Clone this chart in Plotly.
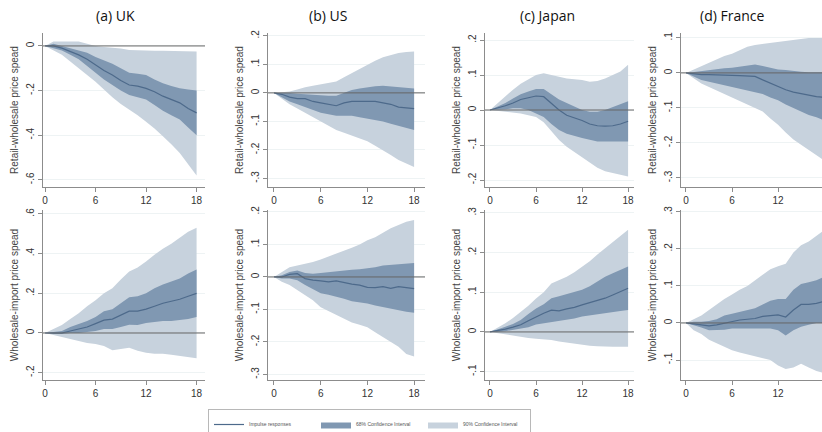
import plotly.graph_objects as go

horizon = list(range(19))
x_ticks = [0, 6, 12, 18]

# ---------------- Retail-wholesale price spread (top row) ----------------
uk_rw_irf  = [0, 0.0, -0.01, -0.025, -0.04, -0.06, -0.085, -0.11, -0.13, -0.155, -0.175, -0.18, -0.19, -0.205, -0.225, -0.24, -0.255, -0.28, -0.30]
uk_rw_hi68 = [0, 0.01, 0.0, -0.01, -0.02, -0.03, -0.05, -0.065, -0.08, -0.1, -0.12, -0.125, -0.13, -0.15, -0.167, -0.18, -0.19, -0.195, -0.2]
uk_rw_lo68 = [0, -0.01, -0.02, -0.04, -0.06, -0.09, -0.12, -0.15, -0.175, -0.2, -0.22, -0.23, -0.24, -0.265, -0.29, -0.31, -0.33, -0.365, -0.40]
uk_rw_hi90 = [0, 0.02, 0.02, 0.02, 0.02, 0.01, 0.0, -0.005, -0.008, -0.012, -0.018, -0.02, -0.02, -0.022, -0.022, -0.023, -0.024, -0.025, -0.025]
uk_rw_lo90 = [0, -0.02, -0.04, -0.07, -0.1, -0.13, -0.16, -0.195, -0.23, -0.26, -0.285, -0.31, -0.34, -0.37, -0.405, -0.44, -0.48, -0.53, -0.58]

us_rw_irf  = [0, -0.005, -0.015, -0.02, -0.02, -0.03, -0.035, -0.04, -0.045, -0.035, -0.03, -0.03, -0.03, -0.03, -0.035, -0.04, -0.05, -0.053, -0.055]
us_rw_hi68 = [0, 0.0, 0.0, -0.003, -0.005, -0.008, -0.01, -0.01, -0.01, 0.0, 0.01, 0.015, 0.02, 0.023, 0.025, 0.022, 0.02, 0.017, 0.015]
us_rw_lo68 = [0, -0.015, -0.03, -0.04, -0.05, -0.06, -0.07, -0.075, -0.08, -0.08, -0.08, -0.085, -0.09, -0.095, -0.1, -0.108, -0.115, -0.123, -0.13]
us_rw_hi90 = [0, 0.002, 0.005, 0.012, 0.02, 0.025, 0.03, 0.035, 0.04, 0.055, 0.07, 0.085, 0.1, 0.113, 0.125, 0.133, 0.14, 0.143, 0.145]
us_rw_lo90 = [0, -0.02, -0.04, -0.055, -0.07, -0.085, -0.1, -0.115, -0.13, -0.14, -0.15, -0.16, -0.17, -0.185, -0.2, -0.218, -0.235, -0.248, -0.26]

jp_rw_irf  = [0, 0.005, 0.012, 0.02, 0.03, 0.035, 0.04, 0.038, 0.02, 0.0, -0.015, -0.022, -0.03, -0.04, -0.045, -0.046, -0.045, -0.04, -0.032]
jp_rw_hi68 = [0, 0.01, 0.02, 0.033, 0.045, 0.053, 0.06, 0.06, 0.045, 0.03, 0.02, 0.01, 0.0, -0.005, -0.005, 0.0, 0.008, 0.018, 0.025]
jp_rw_lo68 = [0, 0.0, 0.002, 0.005, 0.005, 0.0, -0.01, -0.02, -0.04, -0.057, -0.068, -0.075, -0.08, -0.085, -0.09, -0.09, -0.09, -0.09, -0.09]
jp_rw_hi90 = [0, 0.02, 0.04, 0.058, 0.075, 0.088, 0.1, 0.105, 0.1, 0.095, 0.09, 0.088, 0.086, 0.081, 0.083, 0.09, 0.1, 0.11, 0.129]
jp_rw_lo90 = [0, -0.002, -0.005, -0.008, -0.01, -0.015, -0.02, -0.035, -0.06, -0.086, -0.105, -0.12, -0.133, -0.15, -0.165, -0.175, -0.18, -0.187, -0.19]

fr_rw_irf  = [0, -0.003, -0.005, -0.005, -0.005, -0.006, -0.007, -0.008, -0.01, -0.01, -0.02, -0.03, -0.04, -0.048, -0.055, -0.06, -0.065, -0.068, -0.07]
fr_rw_hi68 = [0, 0.003, 0.005, 0.008, 0.01, 0.013, 0.015, 0.018, 0.02, 0.024, 0.02, 0.015, 0.01, 0.008, 0.005, 0.003, 0.002, 0.002, 0.002]
fr_rw_lo68 = [0, -0.01, -0.02, -0.025, -0.03, -0.035, -0.04, -0.045, -0.05, -0.055, -0.06, -0.07, -0.078, -0.09, -0.1, -0.11, -0.12, -0.127, -0.135]
fr_rw_hi90 = [0, 0.01, 0.02, 0.03, 0.04, 0.048, 0.055, 0.065, 0.075, 0.08, 0.083, 0.087, 0.09, 0.093, 0.095, 0.098, 0.1, 0.1, 0.1]
fr_rw_lo90 = [0, -0.015, -0.03, -0.04, -0.05, -0.06, -0.068, -0.08, -0.09, -0.1, -0.11, -0.13, -0.148, -0.17, -0.19, -0.205, -0.22, -0.234, -0.25]

# ---------------- Wholesale-import price spread (bottom row) ----------------
uk_wi_irf  = [0, 0.0, 0.0, 0.01, 0.02, 0.03, 0.047, 0.065, 0.07, 0.09, 0.11, 0.11, 0.12, 0.135, 0.15, 0.16, 0.17, 0.185, 0.2]
uk_wi_hi68 = [0, 0.005, 0.01, 0.03, 0.045, 0.06, 0.08, 0.11, 0.12, 0.15, 0.18, 0.185, 0.2, 0.225, 0.245, 0.26, 0.275, 0.3, 0.32]
uk_wi_lo68 = [0, -0.005, -0.005, 0.0, 0.0, 0.005, 0.01, 0.02, 0.02, 0.03, 0.042, 0.04, 0.05, 0.055, 0.06, 0.06, 0.065, 0.07, 0.08]
uk_wi_hi90 = [0, 0.02, 0.04, 0.07, 0.1, 0.135, 0.165, 0.2, 0.225, 0.27, 0.31, 0.33, 0.36, 0.395, 0.425, 0.45, 0.48, 0.51, 0.53]
uk_wi_lo90 = [0, -0.01, -0.02, -0.03, -0.04, -0.05, -0.055, -0.065, -0.087, -0.08, -0.075, -0.09, -0.1, -0.105, -0.105, -0.11, -0.115, -0.12, -0.127]

us_wi_irf  = [0, 0.0, 0.008, 0.01, -0.005, -0.01, -0.012, -0.015, -0.012, -0.018, -0.022, -0.025, -0.032, -0.033, -0.03, -0.035, -0.03, -0.033, -0.036]
us_wi_hi68 = [0, 0.005, 0.015, 0.02, 0.012, 0.01, 0.012, 0.015, 0.018, 0.02, 0.022, 0.024, 0.026, 0.03, 0.035, 0.037, 0.04, 0.041, 0.043]
us_wi_lo68 = [0, -0.005, -0.005, -0.01, -0.025, -0.037, -0.05, -0.055, -0.06, -0.067, -0.075, -0.078, -0.082, -0.088, -0.093, -0.098, -0.103, -0.107, -0.11]
us_wi_hi90 = [0, 0.015, 0.03, 0.035, 0.04, 0.046, 0.054, 0.063, 0.07, 0.08, 0.09, 0.1, 0.113, 0.122, 0.135, 0.15, 0.16, 0.17, 0.175]
us_wi_lo90 = [0, -0.015, -0.025, -0.04, -0.055, -0.072, -0.093, -0.105, -0.115, -0.128, -0.14, -0.147, -0.155, -0.17, -0.185, -0.2, -0.215, -0.237, -0.245]

jp_wi_irf  = [0, 0.003, 0.007, 0.012, 0.018, 0.028, 0.038, 0.047, 0.055, 0.053, 0.058, 0.062, 0.068, 0.074, 0.08, 0.085, 0.093, 0.102, 0.11]
jp_wi_hi68 = [0, 0.006, 0.013, 0.02, 0.03, 0.045, 0.059, 0.07, 0.085, 0.09, 0.095, 0.1, 0.106, 0.115, 0.127, 0.139, 0.148, 0.157, 0.165]
jp_wi_lo68 = [0, 0.0, 0.002, 0.005, 0.008, 0.012, 0.019, 0.022, 0.025, 0.028, 0.03, 0.034, 0.039, 0.042, 0.045, 0.047, 0.05, 0.053, 0.055]
jp_wi_hi90 = [0, 0.01, 0.022, 0.035, 0.05, 0.066, 0.084, 0.1, 0.122, 0.13, 0.139, 0.15, 0.164, 0.178, 0.195, 0.21, 0.225, 0.24, 0.257]
jp_wi_lo90 = [0, -0.003, -0.007, -0.01, -0.013, -0.015, -0.017, -0.018, -0.02, -0.024, -0.027, -0.03, -0.033, -0.035, -0.036, -0.037, -0.037, -0.037, -0.037]

fr_wi_irf  = [0, -0.002, -0.005, -0.008, -0.005, 0.0, 0.005, 0.008, 0.01, 0.012, 0.018, 0.02, 0.022, 0.016, 0.035, 0.05, 0.05, 0.053, 0.058]
fr_wi_hi68 = [0, 0.003, 0.003, 0.005, 0.01, 0.02, 0.025, 0.03, 0.035, 0.04, 0.05, 0.06, 0.065, 0.065, 0.09, 0.105, 0.11, 0.115, 0.125]
fr_wi_lo68 = [0, -0.005, -0.012, -0.02, -0.02, -0.018, -0.015, -0.015, -0.017, -0.017, -0.015, -0.015, -0.02, -0.034, -0.02, -0.01, -0.005, 0.0, 0.0]
fr_wi_hi90 = [0, 0.01, 0.02, 0.035, 0.05, 0.065, 0.077, 0.09, 0.1, 0.115, 0.13, 0.145, 0.153, 0.16, 0.19, 0.21, 0.22, 0.235, 0.25]
fr_wi_lo90 = [0, -0.02, -0.03, -0.045, -0.055, -0.065, -0.074, -0.08, -0.085, -0.09, -0.095, -0.1, -0.115, -0.124, -0.12, -0.11, -0.12, -0.13, -0.135]

panel_titles = ["(a) UK", "(b) US", "(c) Japan", "(d) France"]
row_titles = ["Retail-wholesale price spead", "Wholesale-import price spead"]

top_ticks = [
    ([0, -0.2, -0.4, -0.6], ["0", "-.2", "-.4", "-.6"]),
    ([0.2, 0.1, 0, -0.1, -0.2, -0.3], [".2", ".1", "0", "-.1", "-.2", "-.3"]),
    ([0.2, 0.1, 0, -0.1, -0.2], [".2", ".1", "0", "-.1", "-.2"]),
    ([0.1, 0, -0.1, -0.2, -0.3], [".1", "0", "-.1", "-.2", "-.3"]),
]
bottom_ticks = [
    ([0.6, 0.4, 0.2, 0, -0.2], [".6", ".4", ".2", "0", "-.2"]),
    ([0.2, 0.1, 0, -0.1, -0.2, -0.3], [".2", ".1", "0", "-.1", "-.2", "-.3"]),
    ([0.3, 0.2, 0.1, 0, -0.1], [".3", ".2", ".1", "0", "-.1"]),
    ([0.3, 0.2, 0.1, 0, -0.1], [".3", ".2", ".1", "0", "-.1"]),
]

panels = [
    (uk_rw_irf, uk_rw_lo68, uk_rw_hi68, uk_rw_lo90, uk_rw_hi90),
    (us_rw_irf, us_rw_lo68, us_rw_hi68, us_rw_lo90, us_rw_hi90),
    (jp_rw_irf, jp_rw_lo68, jp_rw_hi68, jp_rw_lo90, jp_rw_hi90),
    (fr_rw_irf, fr_rw_lo68, fr_rw_hi68, fr_rw_lo90, fr_rw_hi90),
    (uk_wi_irf, uk_wi_lo68, uk_wi_hi68, uk_wi_lo90, uk_wi_hi90),
    (us_wi_irf, us_wi_lo68, us_wi_hi68, us_wi_lo90, us_wi_hi90),
    (jp_wi_irf, jp_wi_lo68, jp_wi_hi68, jp_wi_lo90, jp_wi_hi90),
    (fr_wi_irf, fr_wi_lo68, fr_wi_hi68, fr_wi_lo90, fr_wi_hi90),
]

# ---------------- layout geometry / style ----------------
W, H = 822, 432
x_domains = [(43, 205), (268, 425), (485, 634), (681, 822)]
x_ranges = [(-0.24, 19.0), (-0.77, 19.4), (-0.65, 18.77), (-0.65, 17.73)]
y_domains = [(33, 187), (210, 380)]
y_ranges_top = [(-0.632, 0.058), (-0.33, 0.21), (-0.22, 0.22), (-0.326, 0.114)]
y_ranges_bot = [(-0.237, 0.62), (-0.317, 0.206), (-0.121, 0.307), (-0.154, 0.305)]
title_x = [115, 328, 547, 732]

LIGHT = "#c7d2dd"
DARK = "#8098b2"
LINE = "#4d6a8b"
AXIS = "#8c8c8c"
GRID = "#eef3f4"
FONT = "Liberation Sans"

fig = go.Figure()
layout = dict(
    width=W, height=H,
    margin=dict(l=0, r=0, t=0, b=0, autoexpand=False),
    paper_bgcolor="white", plot_bgcolor="white",
    showlegend=True,
    legend=dict(
        orientation="h", x=208 / W, y=1 - 409 / H, xanchor="left", yanchor="top",
        font=dict(family=FONT, size=5, color="#555"),
        bordercolor="#b8b8b8", borderwidth=1, bgcolor="white",
        entrywidth=62, entrywidthmode="pixels", itemwidth=30,
        traceorder="normal",
    ),
    annotations=[], shapes=[],
)

for i, (irf, lo68, hi68, lo90, hi90) in enumerate(panels):
    row = i // 4
    col = i % 4
    n = i + 1
    xa = "x" if n == 1 else f"x{n}"
    ya = "y" if n == 1 else f"y{n}"
    first = i == 0
    fig.add_trace(go.Scatter(x=horizon, y=lo90, mode="lines", line=dict(width=0, color=LIGHT),
                             xaxis=xa, yaxis=ya, showlegend=False, hoverinfo="skip"))
    fig.add_trace(go.Scatter(x=horizon, y=hi90, mode="lines", line=dict(width=0, color=LIGHT),
                             fill="tonexty", fillcolor=LIGHT, xaxis=xa, yaxis=ya,
                             name="90% Confidence Interval", legendgroup="c90", legendrank=3,
                             showlegend=first))
    fig.add_trace(go.Scatter(x=horizon, y=lo68, mode="lines", line=dict(width=0, color=DARK),
                             xaxis=xa, yaxis=ya, showlegend=False, hoverinfo="skip"))
    fig.add_trace(go.Scatter(x=horizon, y=hi68, mode="lines", line=dict(width=0, color=DARK),
                             fill="tonexty", fillcolor=DARK, xaxis=xa, yaxis=ya,
                             name="68% Confidence Interval", legendgroup="c68", legendrank=2,
                             showlegend=first))
    fig.add_trace(go.Scatter(x=horizon, y=irf, mode="lines", line=dict(width=1.2, color=LINE),
                             xaxis=xa, yaxis=ya, name="Impulse responses", legendgroup="irf",
                             legendrank=1, showlegend=first))

    xd = x_domains[col]
    yd = y_domains[row]
    yr = (y_ranges_top if row == 0 else y_ranges_bot)[col]
    tv, tt = (top_ticks if row == 0 else bottom_ticks)[col]
    xkey = "xaxis" if n == 1 else f"xaxis{n}"
    ykey = "yaxis" if n == 1 else f"yaxis{n}"
    layout[xkey] = dict(
        domain=[xd[0] / W, xd[1] / W], anchor=ya, range=list(x_ranges[col]),
        tickvals=x_ticks, ticktext=[str(t) for t in x_ticks],
        showgrid=False, zeroline=False, showline=True, linecolor=AXIS, linewidth=1,
        ticks="outside", ticklen=4, tickcolor=AXIS,
        tickfont=dict(family=FONT, size=10, color="#333"),
    )
    layout[ykey] = dict(
        domain=[1 - yd[1] / H, 1 - yd[0] / H], anchor=xa, range=list(yr),
        tickvals=tv, ticktext=tt, tickangle=-90,
        showgrid=True, gridcolor=GRID, gridwidth=1, zeroline=False,
        showline=True, linecolor=AXIS, linewidth=1,
        ticks="outside", ticklen=4, tickcolor=AXIS,
        tickfont=dict(family=FONT, size=10, color="#333"),
        title=dict(text=row_titles[row], font=dict(family=FONT, size=10, color="#444"), standoff=4),
    )
    # zero reference line, drawn above the bands
    layout["shapes"].append(dict(type="line", xref=f"{xa} domain", yref=ya, x0=0, x1=1, y0=0, y1=0,
                                 line=dict(color="#666", width=1), layer="above"))

for j, t in enumerate(panel_titles):
    layout["annotations"].append(dict(text=t, x=title_x[j] / W, y=1 - 16 / H, xref="paper", yref="paper",
                                      xanchor="center", yanchor="middle", showarrow=False,
                                      font=dict(family="Open Sans", size=14, color="#111")))

fig.update_layout(**layout)
fig.write_html("out.html", config={"displayModeBar": False},
               post_script="document.body.style.margin='0';document.body.style.overflow='hidden';")
